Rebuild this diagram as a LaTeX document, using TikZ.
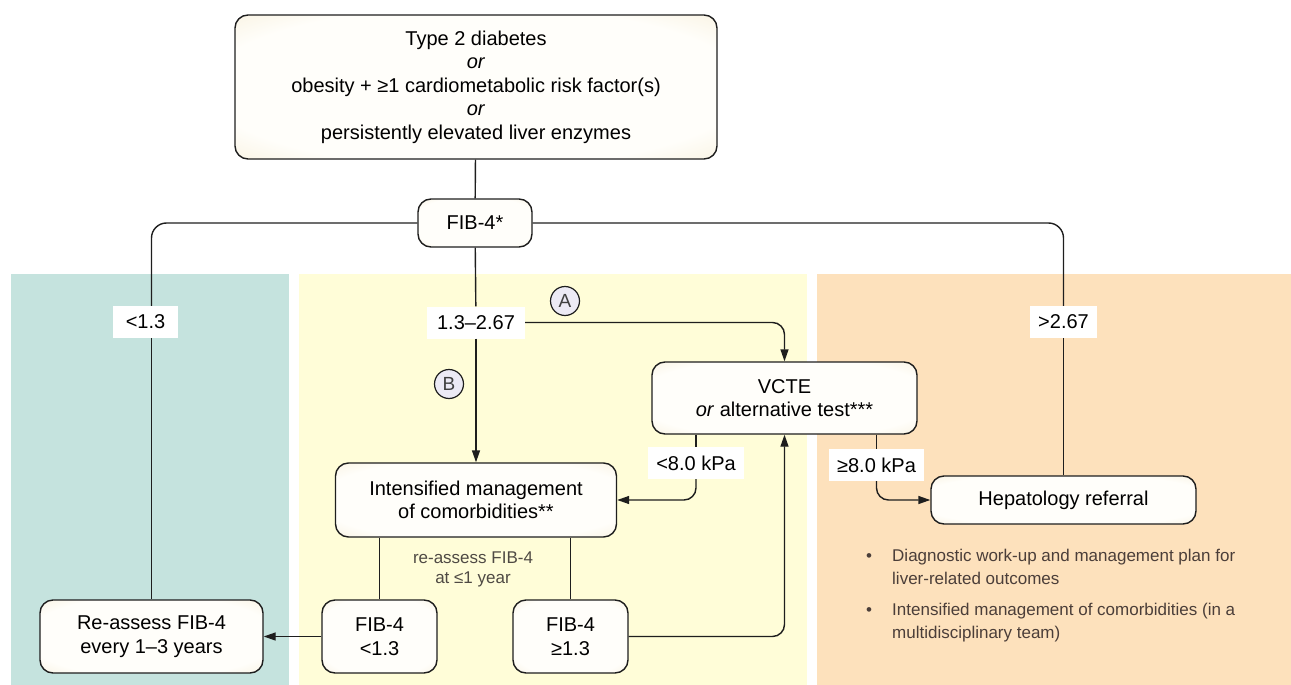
\documentclass[tikz,border=0pt]{standalone}
\usepackage{fontspec}
\setmainfont{Liberation Sans}
\usepackage{xcolor}
\usetikzlibrary{arrows.meta}

\definecolor{tealbg}{HTML}{C5E3DE}
\definecolor{yellowbg}{HTML}{FFFDD8}
\definecolor{orangebg}{HTML}{FDE1BC}
\definecolor{boxin}{HTML}{FFFEFA}
\definecolor{boxout}{HTML}{F0E2BE}
\definecolor{edge}{HTML}{1E1E1E}
\definecolor{badgebg}{HTML}{ECEAF5}
\definecolor{notegray}{HTML}{4F4A44}
\definecolor{bulletgray}{HTML}{4B3E39}
\pgfdeclareradialshading{boxglow}{\pgfpoint{0bp}{0bp}}{color(0bp)=(boxin); color(28bp)=(boxin); color(50bp)=(boxout)}

\begin{document}
\begin{tikzpicture}[x=1pt, y=-1pt,
    box/.style={draw=edge, line width=1.4pt, rounded corners=13pt, shade, shading=boxglow, align=center, font=\fontsize{20}{23.5}\selectfont},
    lab/.style={fill=white, minimum height=32pt, inner xsep=8pt, font=\fontsize{20}{23.5}\selectfont},
    link/.style={draw=edge, line width=1.4pt},
    arr/.style={link, -{Triangle[length=12pt, width=8pt]}},
    badge/.style={circle, draw=edge, line width=1.2pt, fill=badgebg, minimum size=29pt, inner sep=0pt, text=black!75, font=\fontsize{19}{20}\selectfont},
    note/.style={align=center, text=notegray, font=\fontsize{17}{20}\selectfont},
    bul/.style={anchor=base west, align=left, text=bulletgray, inner sep=0pt, font=\fontsize{17}{22.5}\selectfont}]
        \useasboundingbox (0,0) rectangle (1291,685);

        \fill[tealbg] (11,274) rectangle (289,685);
        \fill[yellowbg] (299,274) rectangle (807,685);
        \fill[orangebg] (817,274) rectangle (1291,685);

        \node[box, minimum width=482pt, minimum height=144pt] (top) at (476,87) {Type 2 diabetes\\\textit{or}\\obesity + ≥1 cardiometabolic risk factor(s)\\\textit{or}\\persistently elevated liver enzymes};
        \node[box, minimum width=114pt, minimum height=48pt] (fib) at (475,223) {FIB-4*};
        \node[box, minimum width=265pt, minimum height=72pt] (vcte) at (784.5,398) {VCTE\\\textit{or} alternative test***};
        \node[box, minimum width=281pt, minimum height=74pt] (int) at (476,500) {Intensified management\\of comorbidities**};
        \node[box, minimum width=265pt, minimum height=48pt] (hep) at (1063.5,500) {Hepatology referral};
        \node[box, minimum width=223pt, minimum height=73pt] (reass) at (151.5,636.5) {Re-assess FIB-4\\every 1–3 years};
        \node[box, minimum width=115pt, minimum height=73pt] (lt) at (379.5,636.5) {FIB-4\\<1.3};
        \node[box, minimum width=115pt, minimum height=73pt] (ge) at (570.5,636.5) {FIB-4\\≥1.3};

        \node[lab, minimum width=65pt] (low) at (145.5,322) {<1.3};
        \node[lab, minimum width=98pt] (mid) at (476,322.5) {1.3–2.67};
        \node[lab] (high) at (1063.5,322) {>2.67};
        \node[lab] (kpalo) at (696,463) {<8.0 kPa};
        \node[lab] (kpahi) at (876.5,465) {≥8.0 kPa};

        \node[badge] (circA) at (565,301) {A};
        \node[badge] (circB) at (449,384) {B};

        \draw[link] (top) -- (fib);
        \draw[link, rounded corners=15pt] (fib.west) -| (low.north -| reass.north);
        \draw[link] (low.south -| reass.north) -- (reass.north);
        \draw[link, rounded corners=15pt] (fib.east) -| (high.north);
        \draw[link] (high) -- (hep);
        \draw[link] (fib) -- (mid);
        \draw[arr] (mid) -- (int);
        \draw[arr, rounded corners=12pt] (mid.east) -| (vcte.north);
        \draw[link] (kpalo.north |- vcte.south) -- (kpalo.north);
        \draw[arr, rounded corners=12pt] (kpalo.south) |- (int.east);
        \draw[link] (kpahi.north |- vcte.south) -- (kpahi.north);
        \draw[arr, rounded corners=12pt] (kpahi.south) |- (hep.west);
        \draw[arr, rounded corners=12pt] (ge.east) -| (vcte.south);
        \draw[link] (int.south -| lt.north) -- (lt.north);
        \draw[link] (int.south -| ge.north) -- (ge.north);
        \draw[arr] (lt) -- (reass);

        \node[note] (renote) at (473,569) {re-assess FIB-4\\at ≤1 year};

        \node[bul] (item1) at (892,584) {Diagnostic work-up and management plan for\\liver-related outcomes};
        \node[bul] (item2) at (892,638) {Intensified management of comorbidities (in a\\multidisciplinary team)};
        \node[bul] (dot1) at (866,561) {•};
        \node[bul] (dot2) at (866,615) {•};
    \end{tikzpicture}
\end{document}
